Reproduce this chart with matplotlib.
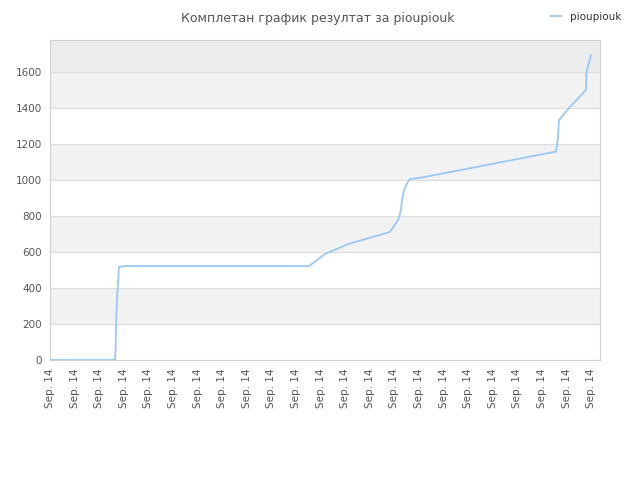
import matplotlib
matplotlib.use("Agg")
import matplotlib.pyplot as plt

# position along the time axis (tick units) and cumulative score
pos = [0, 2.64, 2.67, 2.68, 2.72, 2.78, 2.80, 3.05, 10.53, 11.18, 12.11,
       13.82, 14.15, 14.27, 14.31, 14.39, 14.55, 14.63, 15.24, 20.57, 20.65,
       20.69, 21.14, 21.79, 21.81, 21.87, 21.99]
score = [0, 0, 60, 183, 322, 461, 517, 522, 522, 589, 644,
         711, 778, 833, 889, 944, 989, 1005, 1017, 1158, 1233,
         1333, 1406, 1500, 1600, 1628, 1694]
tick_labels = ["Sep. 14"] * 23
yticks = [0, 200, 400, 600, 800, 1000, 1200, 1400, 1600]

fig = plt.figure(figsize=(6.4, 4.8), dpi=100)
ax = fig.add_axes([50/640, 120/480, 550/640, 320/480])

ymax = 1778
# alternating background bands
for lo in range(200, 1600, 400):
    ax.axhspan(lo, lo + 200, color="#f2f2f2", zorder=0, lw=0)
ax.axhspan(1600, ymax, color="#ececec", zorder=0, lw=0)
for yv in yticks[1:]:
    ax.axhline(yv, color="#dddddd", lw=0.8, zorder=1)

ax.plot(pos, score, color="#99c8f5", lw=1.3, zorder=3, label="pioupiouk")

ax.set_xlim(0, 22.36)
ax.set_ylim(0, ymax)
ax.set_xticks(range(len(tick_labels)))
ax.set_xticklabels(tick_labels, rotation=90, fontsize=7.5, color="#555555")
ax.set_yticks(yticks)
ax.set_yticklabels([str(v) for v in yticks], fontsize=7.5, color="#555555")
ax.tick_params(length=0, pad=6)
for s in ax.spines.values():
    s.set_color("#d0d0d0")

fig.text(0.497, 0.975, "Комплетан график резултат за pioupiouk", ha="center", va="top",
         fontsize=9, color="#555555")
leg = fig.legend(loc="upper right", bbox_to_anchor=(0.985, 0.995), frameon=False,
                 fontsize=7.5, handlelength=1.0, handletextpad=0.8)
for t in leg.get_texts():
    t.set_color("#333333")

fig.savefig("out.png", dpi=100)
